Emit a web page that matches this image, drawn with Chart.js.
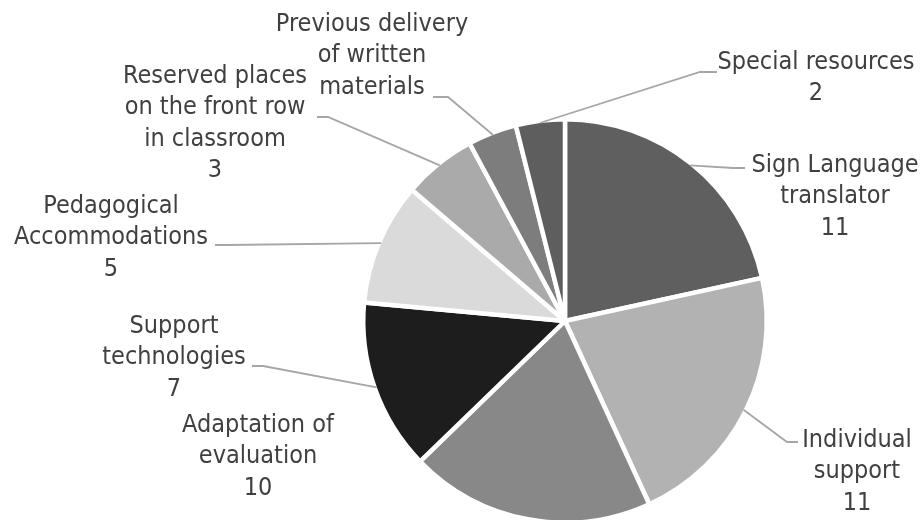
<!DOCTYPE html>
<html>
<head>
<meta charset="utf-8">
<script src="https://cdn.jsdelivr.net/npm/chart.js@4/dist/chart.umd.min.js"></script>
<style>
  html, body { margin: 0; padding: 0; background: #fff; overflow: hidden; }
  #wrap { position: relative; width: 924px; height: 526px; }
</style>
</head>
<body>
<div id="wrap"><canvas id="pie"></canvas></div>
<script>
const categories = [
  "Sign Language translator",
  "Individual support",
  "Adaptation of evaluation",
  "Support technologies",
  "Pedagogical Accommodations",
  "Reserved places on the front row in classroom",
  "Previous delivery of written materials",
  "Special resources",
];
const counts = [11, 11, 10, 7, 5, 3, 2, 2];
const shades = ["#5f5f5f", "#b2b2b2", "#888888", "#1d1d1d", "#dadada", "#aaaaaa", "#7d7d7d", "#5e5e5e"];

// wrapped label text, one entry per slice
const labelLines = [
  ["Sign Language", "translator"],
  ["Individual", "support"],
  ["Adaptation of", "evaluation"],
  ["Support", "technologies"],
  ["Pedagogical", "Accommodations"],
  ["Reserved places", "on the front row", "in classroom"],
  ["Previous delivery", "of written", "materials"],
  ["Special resources"],
];

// where each label sits and how its leader line bends
const labelSpots = [
  { cx: 835, top: 165, elbow: [733, 168], end: 745, value: true },
  { cx: 857, top: 440, elbow: [787, 442], end: 798, value: true },
  { cx: 258, top: 425, elbow: null, value: true },
  { cx: 174, top: 326, elbow: [263, 366], end: 252, value: true },
  { cx: 111, top: 206, elbow: [226, 245], end: 215, value: true },
  { cx: 215, top: 76, elbow: [328, 117], end: 317, value: true },
  { cx: 372, top: 24, elbow: [448, 97], end: 433, value: false },
  { cx: 816, top: 62, elbow: [700, 72], end: 717, value: true },
];

const LINE_H = 31.6;

const leaderLabels = {
  id: "leaderLabels",
  afterDatasetsDraw(chart) {
    const ctx = chart.ctx;
    const arcs = chart.getDatasetMeta(0).data;
    ctx.save();
    arcs.forEach((arc, i) => {
      const spot = labelSpots[i];
      const { x, y, startAngle, endAngle, outerRadius } =
        arc.getProps(["x", "y", "startAngle", "endAngle", "outerRadius"], true);
      const mid = (startAngle + endAngle) / 2;
      if (spot.elbow) {
        const r = outerRadius - 2;
        ctx.beginPath();
        ctx.moveTo(x + Math.cos(mid) * r, y + Math.sin(mid) * r);
        ctx.lineTo(spot.elbow[0], spot.elbow[1]);
        ctx.lineTo(spot.end, spot.elbow[1]);
        ctx.strokeStyle = "#a6a6a6";
        ctx.lineWidth = 1.8;
        ctx.stroke();
      }
      const lines = labelLines[i].slice();
      if (spot.value) lines.push(String(counts[i]));
      ctx.fillStyle = "#404040";
      ctx.font = "25px 'DejaVu Sans Condensed', 'DejaVu Sans', sans-serif";
      ctx.textAlign = "center";
      ctx.textBaseline = "middle";
      lines.forEach((t, k) => ctx.fillText(t, spot.cx, spot.top + k * LINE_H));
    });
    ctx.restore();
  },
};

new Chart(document.getElementById("pie"), {
  type: "pie",
  data: {
    labels: categories,
    datasets: [{
      data: counts,
      backgroundColor: shades,
      borderColor: "#ffffff",
      borderWidth: 4.5,
    }],
  },
  options: {
    responsive: true,
    maintainAspectRatio: false,
    animation: false,
    layout: { padding: { left: 361, right: 155, top: 117, bottom: 1 } },
    plugins: { legend: { display: false }, tooltip: { enabled: false } },
  },
  plugins: [leaderLabels],
});
</script>
</body>
</html>
